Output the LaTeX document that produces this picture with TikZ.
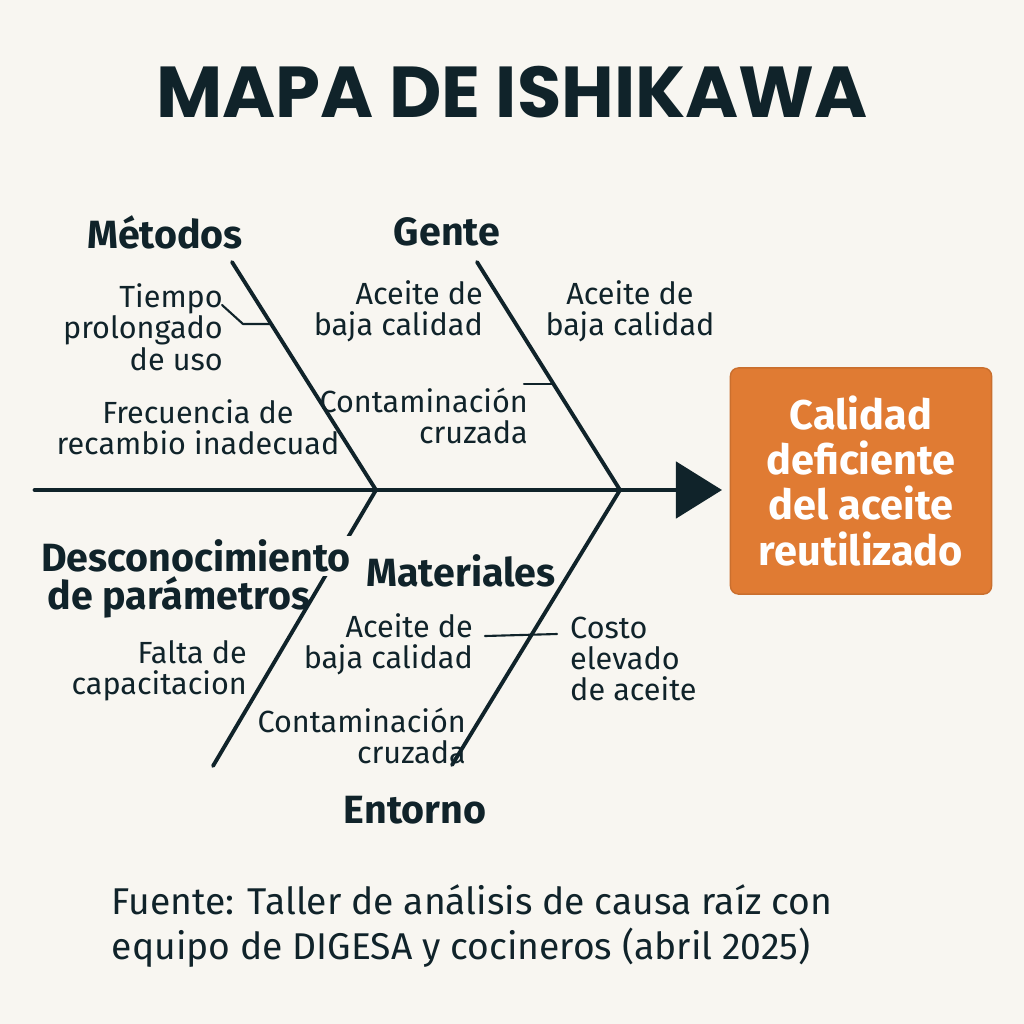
\documentclass[tikz,border=0pt]{standalone}
\usepackage{fontspec}
\setmainfont{Fira Sans}
\newfontfamily\titlefont{Poppins}
\usetikzlibrary{arrows.meta}
\definecolor{bgcol}{HTML}{F8F6F1}
\definecolor{inkcol}{HTML}{10232A}
\definecolor{boxcol}{HTML}{E07B33}
\tikzset{
  spine/.style={draw=inkcol, line width=1.4pt},
  bone/.style={draw=inkcol, line width=1.1pt},
  twig/.style={draw=inkcol, line width=0.6pt},
  cat/.style={font=\fontsize{11.2}{11.6}\selectfont\bfseries, align=center, inner sep=1pt},
  cause/.style={align=center, inner sep=1pt},
  effectbox/.style={fill=boxcol, draw=boxcol!90!black, line width=0.4pt, rounded corners=0.08cm,
    text=white, font=\fontsize{11.8}{12.8}\selectfont\bfseries, align=center,
    minimum width=2.61cm, minimum height=2.26cm}
}
\begin{document}
\begin{tikzpicture}[x=0.01cm, y=-0.01cm, line join=round, line cap=round, text=inkcol,
    font=\fontsize{8.7}{8.9}\selectfont]
  \fill[bgcol] (0,0) rectangle (1024,1024);
  \useasboundingbox (0,0) rectangle (1024,1024);
  % spine and bones
  \path (35,490) coordinate (tail) (722,490) coordinate (head)
        (376,490) coordinate (J1) (620,490) coordinate (J2)
        (232,262) coordinate (Mtop) (477,262) coordinate (Gtop)
        (213,766) coordinate (Dbot) (452,765) coordinate (Ebot);
  \node[effectbox] (effect) at (861,481) {Calidad\\deficiente\\del aceite\\reutilizado};
  \draw[spine, -{Triangle[length=4.6mm, width=5.6mm]}] (tail) -- (head);
  \draw[bone] (Mtop) -- (J1);
  \draw[bone] (Gtop) -- (J2);
  \draw[bone] (J1) -- (Dbot);
  \draw[bone] (J2) -- (Ebot);
  % title
  \node[font=\titlefont\bfseries\fontsize{20.5}{22}\selectfont] (title) at (512,92) {MAPA DE ISHIKAWA};
  % Metodos
  \node[cat] (metodos) at (165,232) {Métodos};
  \node[cause, align=right, anchor=east] (tiempo) at (227,327) {Tiempo\\prolongado\\de uso};
  \node[cause] (frecuencia) at (198,427) {Frecuencia de\\recambio inadecuad};
  \path (222,305) coordinate (tA) (243,324) coordinate (tB) (270,324) coordinate (tC);
  \draw[twig] (tA) -- (tB) -- (tC);
  % Gente
  \node[cat] (gente) at (447,232) {Gente};
  \node[cause, align=right, anchor=east] (aceiteG) at (487,311) {Aceite de\\baja calidad};
  \node[cause] (aceiteR) at (630,311) {Aceite de\\baja calidad};
  \node[cause, align=right, anchor=east] (contG) at (532,416) {Contaminación\\cruzada};
  \path (524,384) coordinate (gA) (553,384) coordinate (gB);
  \draw[twig] (gA) -- (gB);
  % Desconocimiento
  \node[cat, fill=bgcol] (desc) at (196,556) {Desconocimiento};
  \node[cat] (param) at (179,597) {de parámetros};
  \node[cause, align=right, anchor=east] (falta) at (251,671) {Falta de\\capacitacion};
  % Materiales / Entorno
  \node[cat] (materiales) at (461,571) {Materiales};
  \node[cause, align=right, anchor=east] (aceiteM) at (477,644) {Aceite de\\baja calidad};
  \node[cause, align=left, anchor=west] (costo) at (566,659) {Costo\\elevado\\de aceite};
  \node[cause, align=right, anchor=east] (contM) at (470,736) {Contaminación\\cruzada};
  \path (485,636) coordinate (mA) (557,634) coordinate (mB);
  \draw[twig] (mA) -- (mB);
  \node[cat] (entorno) at (415,810) {Entorno};
  % source
  \node[align=left, anchor=west, inner sep=0pt, font=\fontsize{10.6}{12.8}\selectfont] (fuente) at (111,926)
    {Fuente: Taller de análisis de causa raíz con\\equipo de DIGESA y cocineros (abril 2025)};
\end{tikzpicture}
\end{document}
